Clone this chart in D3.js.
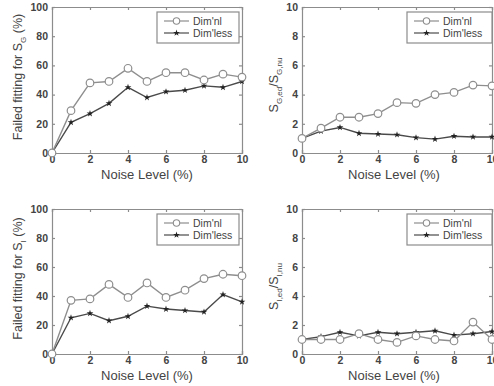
<!DOCTYPE html>
<html><head><meta charset="utf-8">
<script src="https://cdn.jsdelivr.net/npm/d3@7"></script>
<style>body{margin:0;background:#fff}svg{display:block}text{font-family:"Liberation Sans",Arial,sans-serif}</style>
</head><body>
<svg id="c" width="494" height="386"></svg>
<script>
const noise = [0,1,2,3,4,5,6,7,8,9,10];
const seriesNames = ["Dim'nl","Dim'less"];
const sgNl   = [0,29,48,49,58,49,55,55,50,54,52];
const sgLess = [0,21,27,34,45,38,42,43,46,45,49];
const sgRatioNl   = [1,1.7,2.45,2.45,2.7,3.45,3.4,4.0,4.15,4.65,4.6];
const sgRatioLess = [1,1.5,1.75,1.35,1.3,1.25,1.05,0.95,1.15,1.1,1.1];
const siNl   = [0,37,38,48,39,49,39,44,52,55,54];
const siLess = [0,25,28,23,26,33,31,30,29,41,36];
const siRatioNl   = [1,1.0,1.0,1.4,1.0,0.8,1.25,1.0,0.9,2.2,1.0];
const siRatioLess = [1,1.2,1.5,1.25,1.5,1.4,1.5,1.6,1.3,1.4,1.55];
const xTicks = [0,2,4,6,8,10];
const pctTicks = [0,20,40,60,80,100];
const ratioTicks = [0,2,4,6,8,10];

const svg = d3.select("#c");
const panels = [
  {box:[52,242,7,153], ymax:100, yt:pctTicks, a:sgNl, b:sgLess, lab:"G", kind:"pct"},
  {box:[302,492,7,153], ymax:10, yt:ratioTicks, a:sgRatioNl, b:sgRatioLess, lab:"G", kind:"ratio"},
  {box:[52,242,209,354], ymax:100, yt:pctTicks, a:siNl, b:siLess, lab:"I", kind:"pct"},
  {box:[302,492,209,354], ymax:10, yt:ratioTicks, a:siRatioNl, b:siRatioLess, lab:"I", kind:"ratio"}
];
const axisCol = "#8c8c8c", textCol = "#444";
const nlCol = "#8e8e8e", lessCol = "#4a4a4a";

panels.forEach(p => {
  const [x0,x1,y0,y1] = p.box;
  const x = d3.scaleLinear().domain([0,10]).range([x0,x1]);
  const y = d3.scaleLinear().domain([0,p.ymax]).range([y1,y0]);
  const g = svg.append("g");
  const ax = g.append("g").attr("transform",`translate(0,${y1})`)
    .call(d3.axisBottom(x).tickValues(xTicks).tickSize(-3).tickPadding(3));
  const ay = g.append("g").attr("transform",`translate(${x0},0)`)
    .call(d3.axisLeft(y).tickValues(p.yt).tickSize(-3).tickPadding(4));
  const at = g.append("g").attr("transform",`translate(0,${y0})`)
    .call(d3.axisTop(x).tickValues(xTicks).tickSize(-3).tickFormat(""));
  const ar = g.append("g").attr("transform",`translate(${x1},0)`)
    .call(d3.axisRight(y).tickValues(p.yt).tickSize(-3).tickFormat(""));
  [ax,ay,at,ar].forEach(a=>{
    a.selectAll("path,line").attr("stroke",axisCol).attr("stroke-width",1.2);
    a.selectAll("text").attr("fill",textCol).style("font-size","10.5px").style("font-weight","bold")
      .style("font-family","'Liberation Sans',Arial,sans-serif");
  });
  g.append("text").attr("x",(x0+x1)/2 - (p.kind==="ratio"?3:0)).attr("y",y1+26)
    .attr("text-anchor","middle").attr("fill",textCol).style("font-size","13px").text("Noise Level (%)");
  const ty = (y0+y1)/2 - 3;
  if (p.kind==="pct") {
    const t = g.append("text").attr("transform",`translate(22,${ty}) rotate(-90)`)
      .attr("text-anchor","middle").attr("fill",textCol).style("font-size","12.5px");
    t.append("tspan").text("Failed fitting for S");
    t.append("tspan").attr("dy",4).style("font-size","8px").text(p.lab);
    t.append("tspan").attr("dy",-4).text(" (%)");
  } else {
    const t = g.append("text").attr("transform",`translate(278,${ty+8}) rotate(-90)`)
      .attr("text-anchor","middle").attr("fill",textCol).style("font-size","12.5px");
    t.append("tspan").text("S");
    t.append("tspan").attr("dy",4).style("font-size","8px").text(p.lab+",ed");
    t.append("tspan").attr("dy",-4).text("/S");
    t.append("tspan").attr("dy",4).style("font-size","8px").text(p.lab+",nu");
  }
  const line = d3.line().x((d,i)=>x(noise[i])).y(d=>y(d));
  const star = d3.symbol().type(d3.symbolStar).size(14);
  g.append("path").datum(p.b).attr("d",line).attr("fill","none").attr("stroke",lessCol).attr("stroke-width",1.4);
  g.selectAll(".ms").data(p.b).enter().append("path")
    .attr("transform",(d,i)=>`translate(${x(noise[i])},${y(d)})`).attr("d",star).attr("fill","#222");
  g.append("path").datum(p.a).attr("d",line).attr("fill","none").attr("stroke",nlCol).attr("stroke-width",1.4);
  g.selectAll(".mc").data(p.a).enter().append("circle")
    .attr("cx",(d,i)=>x(noise[i])).attr("cy",d=>y(d)).attr("r",3.8)
    .attr("fill","#fff").attr("stroke",nlCol).attr("stroke-width",1.2);
  const lx0 = x1 - 85, ly0 = y0 + 5;
  const lw = p.kind==="pct"?82:85;
  g.append("rect").attr("x",lx0).attr("y",ly0).attr("width",lw).attr("height",31)
    .attr("fill","#fff").attr("stroke",axisCol).attr("stroke-width",1.2);
  seriesNames.forEach((n,k)=>{
    const ly = ly0 + 9 + k*12;
    const col = k===0?nlCol:lessCol;
    g.append("line").attr("x1",lx0+7).attr("x2",lx0+32).attr("y1",ly).attr("y2",ly)
      .attr("stroke",col).attr("stroke-width",1.2);
    if (k===0) g.append("circle").attr("cx",lx0+19.5).attr("cy",ly).attr("r",3.2)
      .attr("fill","#fff").attr("stroke",col).attr("stroke-width",1.1);
    else g.append("path").attr("transform",`translate(${lx0+19.5},${ly})`).attr("d",star).attr("fill","#222");
    g.append("text").attr("x",lx0+36).attr("y",ly+3.5).attr("fill",textCol)
      .style("font-size","10.5px").text(n);
  });
});
</script>
</body></html>
